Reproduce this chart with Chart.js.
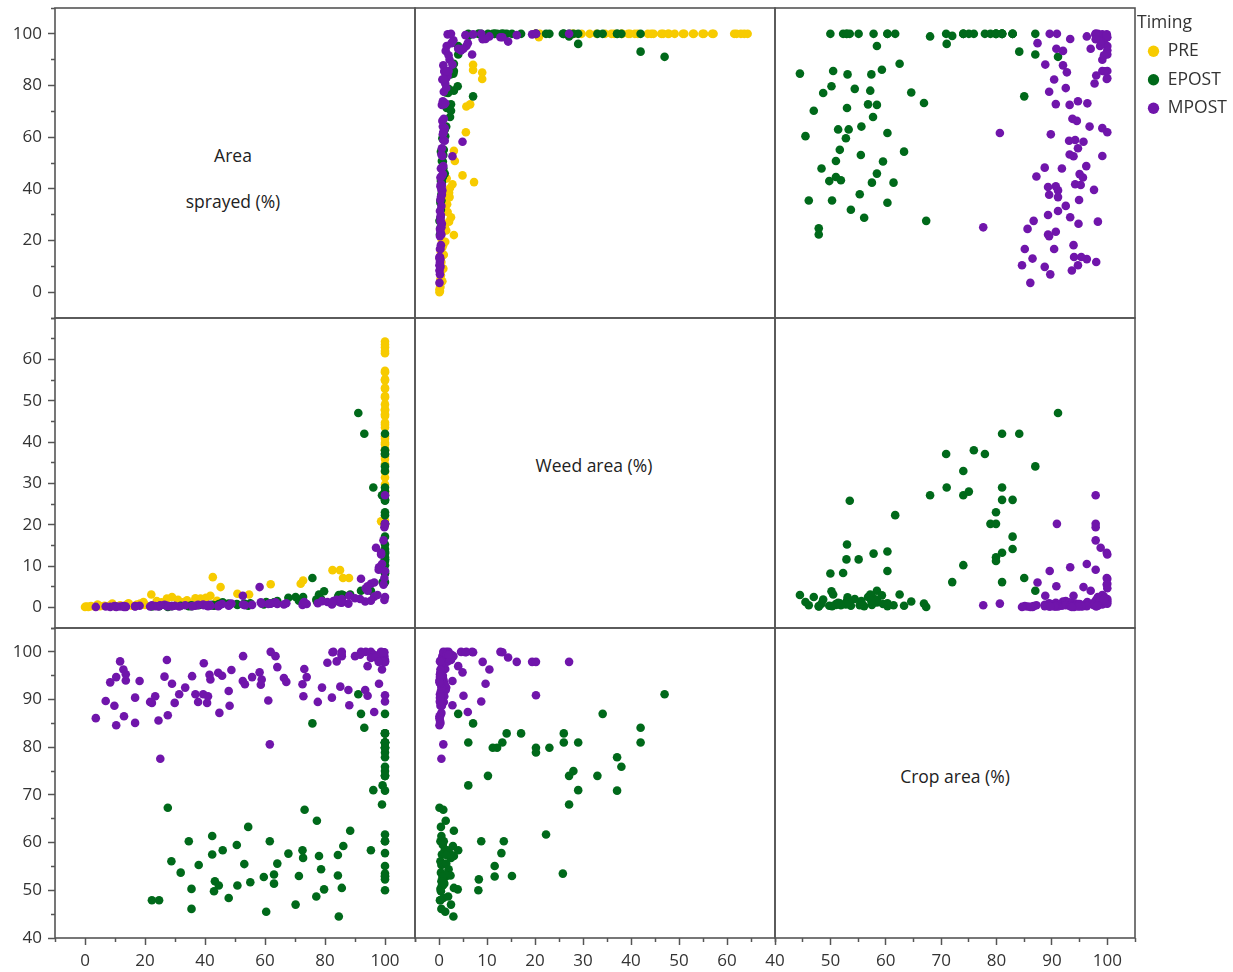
<!DOCTYPE html>
<html>
<head>
<meta charset="utf-8">
<script src="https://cdn.jsdelivr.net/npm/chart.js@4.4.1/dist/chart.umd.min.js"></script>
<style>
  html, body { margin: 0; padding: 0; background: #fff; overflow: hidden; width: 1233px; height: 972px; }
  canvas { position: absolute; left: 0; top: 0; }
  .cell { position: absolute; font-family: 'Open Sans', sans-serif; font-size: 17.5px; color: #222;
          transform: translate(-50%, -50%); white-space: nowrap; }
</style>
</head>
<body>
<div class="cell" style="left:233px;top:155px">Area</div>
<div class="cell" style="left:233px;top:201px">sprayed (%)</div>
<div class="cell" style="left:594px;top:465px">Weed area (%)</div>
<div class="cell" style="left:955px;top:776px">Crop area (%)</div>
<script>
// tick labels (major) and tick marks (minor) of each variable
const sprayTicks = [0, 20, 40, 60, 80, 100];
const sprayMinor = [-10, 0, 10, 20, 30, 40, 50, 60, 70, 80, 90, 100, 110];
const weedTicks = [0, 10, 20, 30, 40, 50, 60];
const weedMinor = [-5, 0, 5, 10, 15, 20, 25, 30, 35, 40, 45, 50, 55, 60, 65, 70];
const cropTicks = [40, 50, 60, 70, 80, 90, 100];
const cropMinor = [40, 45, 50, 55, 60, 65, 70, 75, 80, 85, 90, 95, 100, 105];

const varLabels = ['Area sprayed (%)', 'Weed area (%)', 'Crop area (%)'];
const timings = ['PRE', 'EPOST', 'MPOST'];

// PRE: no crop present
const preSprayed = [0, 0.5, 1.1, 2, 3.4, 4.2, 5, 6.5, 8.4, 9.1,
  10, 11.7, 13.9, 14.5, 15.5, 17.3, 18.4, 19.5, 20,
  22.1, 23.9, 25.5, 26, 27.3, 29, 31, 32.5, 34, 36,
  36.8, 38.5, 40.3, 41.8, 42.6, 44, 45.2, 50.8, 54.7, 61.9,
  71.9, 72.7, 82.5, 85, 86, 88, 98.7,
  100, 100, 100, 100, 100, 100, 100, 100, 100, 100,
  100, 100, 100, 100, 100, 100, 100, 100, 100, 100,
  100, 100, 100, 100, 100, 100, 100, 100, 100, 100,
  100, 100, 100, 100, 100, 100, 100];
const preWeed = [0.1, 0.2, 0.1, 0.3, 0.2, 0.7, 0.3, 0.4, 0.5, 0.9,
  0.3, 0.5, 0.6, 1.0, 0.4, 0.7, 0.9, 1.3, 0.6,
  3.1, 1.5, 1.2, 0.8, 2.1, 2.5, 1.8, 1.2, 1.7, 1.0,
  2.2, 2.1, 2.3, 2.8, 7.3, 1.6, 4.9, 3.3, 3.1, 5.6,
  5.7, 6.5, 9.0, 9.0, 7.1, 7.1, 20.8,
  20, 21, 27.6, 28.1, 29.7, 31.4, 32.8, 34.6, 35.9, 36.5,
  38, 38.2, 39.4, 39.8, 40.8, 41.4, 43.5, 44.2, 44.7, 46.3,
  46.7, 47.7, 47.9, 49.1, 50.8, 51.1, 52.9, 53.1, 54.9, 55.2,
  56.9, 57.2, 61.5, 62, 62.9, 63.6, 64.3];

const epostSprayed = [91.1, 93.1, 92.0, 75.8, 96.1, 99.0, 99.2,
  100, 100, 100, 100, 100, 100, 100, 100, 100, 100,
  100, 100, 100, 100, 100, 100, 100, 100, 100, 100,
  100, 100, 100, 100, 100, 100, 100, 100, 100,
  95.3, 100, 100,
  27.6, 73.2, 77.3, 54.4, 88.4, 34.6, 42.4, 61.6, 50.6, 45.9,
  42.4, 28.8, 37.9, 31.9, 53.1, 64.1, 67.8, 72.5, 72.7, 78.0,
  84.3, 86.1, 78.7, 84.3, 71.3, 63.0, 59.6, 55.1, 50.8, 43.3,
  44.6, 43.0, 47.9, 35.5, 22.3, 24.7, 35.5, 60.4, 70.2, 77.1,
  79.7, 85.6, 84.6, 63.0];
const epostWeed = [47, 42, 4.0, 7.1, 29, 27.1, 6.1,
  42, 37.1, 38, 37.1, 33, 34.1, 27.1, 28, 29, 26,
  26, 23, 20.2, 20.2, 17.1, 14.1, 13.2, 12.1, 11.2, 10.2,
  6.1, 22.3, 13.5, 13.0, 11.6, 25.8, 15.2, 8.3, 8.2,
  4.0, 8.8, 11.6,
  0.1, 0.9, 1.4, 0.4, 3.1, 0.3, 0.5, 1.0, 0.8, 1.2,
  0.6, 0.3, 0.5, 0.4, 0.9, 1.5, 2.3, 1.8, 2.5, 3.1,
  1.5, 2.9, 2.0, 2.4, 1.6, 1.2, 0.7, 1.0, 0.6, 0.5,
  0.8, 0.4, 0.9, 0.3, 0.2, 0.3, 0.5, 1.3, 2.5, 1.9,
  3.9, 3.1, 3.0, 1.1];
const epostCrop = [91.1, 84.1, 87.0, 85.0, 71.0, 68.0, 72.0,
  81.0, 70.9, 75.9, 77.9, 74.0, 87.0, 74.0, 75.0, 81.0, 81.0,
  82.9, 79.9, 78.9, 79.9, 82.9, 82.9, 81.0, 79.9, 79.9, 74.0,
  81.0, 61.7, 60.3, 57.8, 55.1, 53.5, 53.0, 52.3, 50.0,
  58.4, 60.3, 52.9,
  67.3, 66.9, 64.6, 63.3, 62.5, 60.3, 61.4, 60.3, 59.5, 58.4,
  57.5, 56.1, 55.3, 53.7, 55.5, 55.6, 57.7, 58.4, 56.8, 57.2,
  57.4, 59.3, 54.4, 53.1, 53.0, 53.3, 52.8, 51.7, 51.0, 51.9,
  51.0, 49.8, 48.4, 50.3, 47.9, 47.9, 46.1, 45.5, 47.0, 48.7,
  50.2, 50.5, 44.5, 51.4];

const mpostSprayed = [61.9, 63.5, 64.1, 82.8, 85.6, 85.6, 83.9, 80.8, 90.0, 92.0,
  93.6, 95.3, 96.4, 97.5, 98.7, 99.8, 100, 95.3, 94.2, 99.0,
  98.0, 100, 100, 96.4, 94.2, 93.4, 87.8, 85.1, 82.3, 88.1,
  77.6, 79.0, 72.5, 72.8, 73.9, 73.1, 66.3, 67.1, 58.2, 58.9,
  55.7, 52.6, 53.3, 58.6, 61.1, 52.7, 48.8, 47.9, 48.2, 44.8,
  45.7, 44.4, 41.5, 41.8, 39.6, 39.4, 41.0, 36.8, 37.7, 40.7,
  35.7, 33.4, 31.4, 29.9, 29.0, 26.5, 27.3, 27.6, 24.5, 22.3,
  23.4, 21.7, 18.2, 16.7, 16.7, 13.6, 12.8, 11.7, 13.6, 13.0,
  10.4, 8.4, 9.8, 10.4, 6.9, 3.6, 25.1, 61.6, 100, 99.8,
  100, 99.5, 97.0, 98.7, 97.9, 99.8, 99.5, 82.5, 85.5, 91.7];
const mpostWeed = [0.9, 1.2, 0.8, 1.5, 2.0, 1.1, 1.8, 1.3, 2.2, 6.9,
  4.6, 5.7, 2.6, 3.0, 12.8, 1.8, 2.5, 1.6, 4.0, 10.5,
  9.7, 20.2, 8.8, 6.0, 5.1, 1.4, 0.9, 1.2, 0.7, 2.8,
  1.0, 1.5, 0.6, 1.1, 0.8, 1.3, 0.7, 1.0, 4.9, 0.9,
  0.6, 2.8, 0.5, 1.2, 0.8, 0.7, 0.9, 0.4, 0.6, 0.5,
  0.8, 0.3, 0.6, 0.4, 0.5, 0.7, 0.3, 0.4, 0.6, 0.5,
  0.3, 0.5, 0.2, 0.4, 0.3, 0.6, 0.4, 0.3, 0.2, 0.5,
  0.3, 0.2, 0.4, 0.2, 0.3, 0.1, 0.3, 0.2, 0.2, 0.1,
  0.2, 0.1, 0.3, 0.1, 0.2, 0.1, 0.5, 0.9, 27.1, 19.4,
  20.2, 16.2, 14.4, 13.2, 9.1, 7.1, 5.5, 1.0, 1.6, 2.0];
const mpostCrop = [100, 99.1, 96.8, 100, 100, 99.1, 98.0, 97.7, 99.1, 100,
  100, 100, 99.4, 99.1, 100, 99.1, 98.3, 98.7, 97.0, 96.3,
  93.3, 90.9, 89.6, 87.4, 90.8, 92.0, 92.0, 92.7, 90.4, 88.8,
  89.5, 92.5, 93.2, 90.7, 94.7, 96.4, 94.5, 93.7, 95.7, 94.2,
  94.7, 93.9, 93.2, 93.1, 89.8, 99.1, 96.2, 91.8, 88.7, 87.2,
  95.0, 95.6, 95.2, 94.2, 97.6, 91.1, 90.7, 91.1, 89.5, 89.3,
  94.9, 92.5, 91.1, 89.3, 93.3, 94.8, 98.3, 86.7, 85.6, 89.3,
  90.7, 89.5, 93.9, 90.4, 85.1, 94.0, 96.3, 98.0, 95.3, 86.5,
  94.7, 93.6, 88.7, 84.6, 89.7, 86.1, 77.6, 80.6, 97.9, 97.9,
  97.9, 97.9, 98.8, 99.9, 97.9, 99.9, 99.9, 99.9, 99.5, 99.4];

// page layout
const W = 1233, H = 972;
const colLeft = [55, 415, 775];
const rowTop = [8, 318, 628];
const cellW = 360, cellH = 310;
const yAxisW = 48, xAxisH = 34;
const lineColor = '#555';
const tickFont = { family: 'Open Sans', size: 17 };

const vars = [
  { min: -10, max: 110, major: sprayTicks, minor: sprayMinor },
  { min: -5, max: 70, major: weedTicks, minor: weedMinor },
  { min: 40, max: 105, major: cropTicks, minor: cropMinor }
];

// drawn top to bottom: first dataset ends on top
const groups = [
  { label: 'MPOST', color: '#7015AB', values: [mpostSprayed, mpostWeed, mpostCrop] },
  { label: 'EPOST', color: '#00691A', values: [epostSprayed, epostWeed, epostCrop] },
  { label: 'PRE', color: '#F7CB00', values: [preSprayed, preWeed, null] }
];

const frame = {
  id: 'frame',
  afterDraw(chart) {
    const a = chart.chartArea, ctx = chart.ctx;
    ctx.save();
    ctx.strokeStyle = lineColor;
    ctx.lineWidth = 1.6;
    ctx.strokeRect(a.left, a.top, a.right - a.left, a.bottom - a.top);
    ctx.restore();
  }
};

function axis(v, show, pos) {
  const isMajor = val => v.major.includes(val);
  return {
    type: 'linear', position: pos, display: show, min: v.min, max: v.max,
    afterBuildTicks: s => { s.ticks = v.minor.map(val => ({ value: val })); },
    afterFit: s => {
      if (!show) return;
      if (pos === 'left') s.width = yAxisW; else s.height = xAxisH;
      s.paddingLeft = s.paddingRight = s.paddingTop = s.paddingBottom = 0;
    },
    border: { display: false },
    grid: {
      drawOnChartArea: false, drawTicks: true, tickLength: 7, tickColor: lineColor, tickWidth: 1.5,
      tickBorderDash: ctx => isMajor(ctx.tick.value) ? [] : (pos === 'left' ? [0, 3, 4, 30] : [4, 30])
    },
    ticks: {
      autoSkip: false, maxRotation: 0, padding: 6, color: '#333', font: tickFont,
      callback: val => isMajor(val) ? String(val) : ''
    }
  };
}

function addCanvas() {
  const c = document.createElement('canvas');
  c.width = W; c.height = H;
  document.body.appendChild(c);
  return c.getContext('2d');
}

for (let r = 0; r < 3; r++) {
  for (let c = 0; c < 3; c++) {
    const datasets = [];
    if (r !== c) {
      groups.forEach(g => {
        const xs = g.values[c], ys = g.values[r];
        if (!xs || !ys) return;
        datasets.push({
          label: g.label,
          data: xs.map((x, i) => ({ x: x, y: ys[i] })),
          backgroundColor: g.color,
          borderWidth: 0,
          pointRadius: 4.3,
          pointHoverRadius: 4.3
        });
      });
    }
    const showY = c === 0, showX = r === 2;
    new Chart(addCanvas(), {
      type: 'scatter',
      data: { datasets: datasets },
      options: {
        responsive: false,
        animation: false,
        events: [],
        layout: {
          padding: {
            left: colLeft[c] - (showY ? yAxisW : 0),
            top: rowTop[r],
            right: W - colLeft[c] - cellW,
            bottom: H - rowTop[r] - cellH - (showX ? xAxisH : 0)
          }
        },
        plugins: { legend: { display: false }, tooltip: { enabled: false } },
        scales: { x: axis(vars[c], showX, 'bottom'), y: axis(vars[r], showY, 'left') }
      },
      plugins: [frame]
    });
  }
}

// legend
new Chart(addCanvas(), {
  type: 'scatter',
  data: {
    datasets: timings.map(t => {
      const g = groups.find(g => g.label === t);
      return { label: t, data: [], backgroundColor: g.color, borderColor: g.color, borderWidth: 0 };
    })
  },
  options: {
    responsive: false,
    animation: false,
    events: [],
    layout: { padding: { left: 1137, top: 0, right: 0, bottom: 800 } },
    scales: { x: { display: false }, y: { display: false } },
    plugins: {
      tooltip: { enabled: false },
      legend: {
        position: 'left', align: 'start', maxWidth: 150,
        title: {
          display: true, text: 'Timing', position: 'start', color: '#333',
          font: { family: 'Open Sans', size: 17.5, lineHeight: 1 }, padding: { top: 14, bottom: 0 }
        },
        labels: {
          usePointStyle: true, pointStyle: 'circle', boxWidth: 11, boxHeight: 8, padding: 11,
          color: '#333', font: { family: 'Open Sans', size: 17.5 }
        }
      }
    }
  }
});
</script>
</body>
</html>
